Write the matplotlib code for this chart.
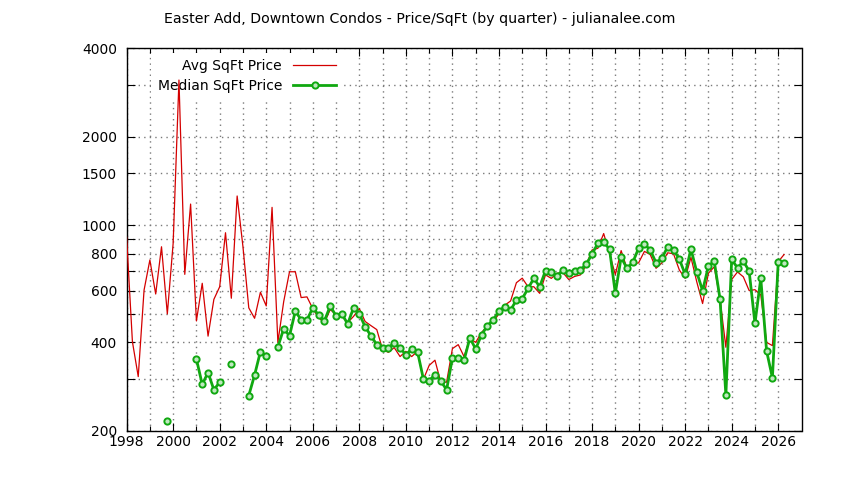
import matplotlib
matplotlib.use("Agg")
import matplotlib.pyplot as plt
import numpy as np
from matplotlib.ticker import FixedLocator, NullFormatter, NullLocator

nan = np.nan

# quarterly data, first quarter = 1998 Q1
start_year = 1998

avg_sqft = [
    912, 402, 306, 602, 762, 584, 845, 500,
    868, 3113, 681, 1180, 473, 635, 420, 560,
    618, 943, 565, 1257, 845, 524, 483, 592,
    532, 1150, 400, 550, 695, 695, 568, 571,
    521, 485, 467, 517, 497, 490, 467, 490,
    521, 471, 456, 442, 378, 370, 384, 358,
    373, 358, 373, 299, 334, 348, 293, 293,
    381, 393, 358, 412, 400, 432, 455, 470,
    500, 535, 553, 638, 661, 618, 618, 587,
    678, 660, 687, 690, 654, 670, 678, 732,
    824, 835, 937, 800, 680, 820, 714, 738,
    745, 815, 795, 714, 745, 806, 800, 705,
    660, 778, 642, 542, 687, 722, 560, 385,
    654, 694, 668, 600, 604, 580, 400, 390,
    752, 795,
]

median_sqft = [
    nan, nan, nan, nan, nan, nan, nan, 216,
    nan, nan, nan, nan, 351, 288, 316, 276,
    293, nan, 338, nan, nan, 264, 310, 372,
    360, nan, 386, 445, 421, 511, 477, 477,
    524, 496, 473, 532, 492, 500, 462, 524,
    500, 452, 421, 393, 383, 383, 399, 383,
    363, 380, 372, 301, 296, 311, 296, 276,
    354, 354, 348, 414, 380, 424, 455, 477,
    511, 529, 515, 557, 563, 610, 660, 618,
    701, 693, 673, 705, 687, 701, 705, 737,
    798, 868, 875, 830, 587, 778, 714, 748,
    835, 863, 824, 746, 772, 845, 824, 768,
    681, 830, 693, 599, 726, 755, 561, 265,
    766, 716, 755, 699, 464, 660, 374, 303,
    750, 745,
]

y_ticks = [200, 300, 400, 500, 600, 700, 800, 900, 1000, 1500, 2000, 3000, 4000]
y_labels = ["200", "", "400", "", "600", "", "800", "", "1000", "1500", "2000", "", "4000"]

title = "Easter Add, Downtown Condos - Price/SqFt (by quarter) - julianalee.com"

quarters = start_year + np.arange(len(avg_sqft)) * 0.25

plt.rcParams["font.family"] = "DejaVu Sans"
plt.rcParams["font.size"] = 10

fig = plt.figure(figsize=(8.44, 4.8), dpi=100)
ax = fig.add_axes([126.6 / 844, 1 - 431 / 480, (801.5 - 126.6) / 844, (431 - 48) / 480])

ax.plot(quarters, avg_sqft, color="#d40000", lw=0.9, label="Avg SqFt Price", zorder=3)
ax.plot(quarters, median_sqft, color="#10a810", lw=2.0, marker="o", ms=4.5,
        mfc="#bfe8bf", mec="#10a810", mew=1.4, label="Median SqFt Price", zorder=4)

ax.set_yscale("log")
ax.set_ylim(200, 4000)
ax.set_xlim(1998, 2027)

ax.yaxis.set_major_locator(FixedLocator(y_ticks))
ax.set_yticklabels(y_labels)
ax.yaxis.set_minor_locator(NullLocator())
ax.yaxis.set_minor_formatter(NullFormatter())

ax.set_xticks(np.arange(1998, 2027, 2))
ax.set_xticklabels([str(y) for y in range(1998, 2027, 2)])
ax.set_xticks(np.arange(1999, 2027, 2), minor=True)

ax.tick_params(which="both", direction="in", top=True, right=True, color="black", width=0.8)
ax.tick_params(which="major", length=6)
ax.tick_params(which="minor", length=3.5)
ax.tick_params(axis="y", pad=7)
ax.tick_params(axis="x", pad=3)

for s in ax.spines.values():
    s.set_linewidth(1.0)
    s.set_color("black")

# dotted grid on every year and every y tick
grid_style = dict(color="#7a7a7a", linestyle=(0, (1, 3)), linewidth=1.0)
ax.xaxis.grid(True, which="major", **grid_style)
ax.xaxis.grid(True, which="minor", **grid_style)
ax.yaxis.grid(True, which="major", **grid_style)
ax.set_axisbelow(True)

fig.text(0.497, 1 - 19 / 480, title, ha="center", va="center", fontsize=10.2)

# opaque key box hides the grid behind it, but stays under the data lines
leg = ax.legend(loc="upper right", bbox_to_anchor=(0.3196, 0.988), frameon=True,
                markerfirst=False, handlelength=3.1, handletextpad=0.8,
                borderpad=0.45, borderaxespad=0, labelspacing=0.42, fontsize=10,
                fancybox=False, framealpha=1.0)
leg.get_frame().set_facecolor("white")
leg.get_frame().set_edgecolor("none")
leg.set_zorder(2.5)

fig.savefig("out.png", dpi=100)
